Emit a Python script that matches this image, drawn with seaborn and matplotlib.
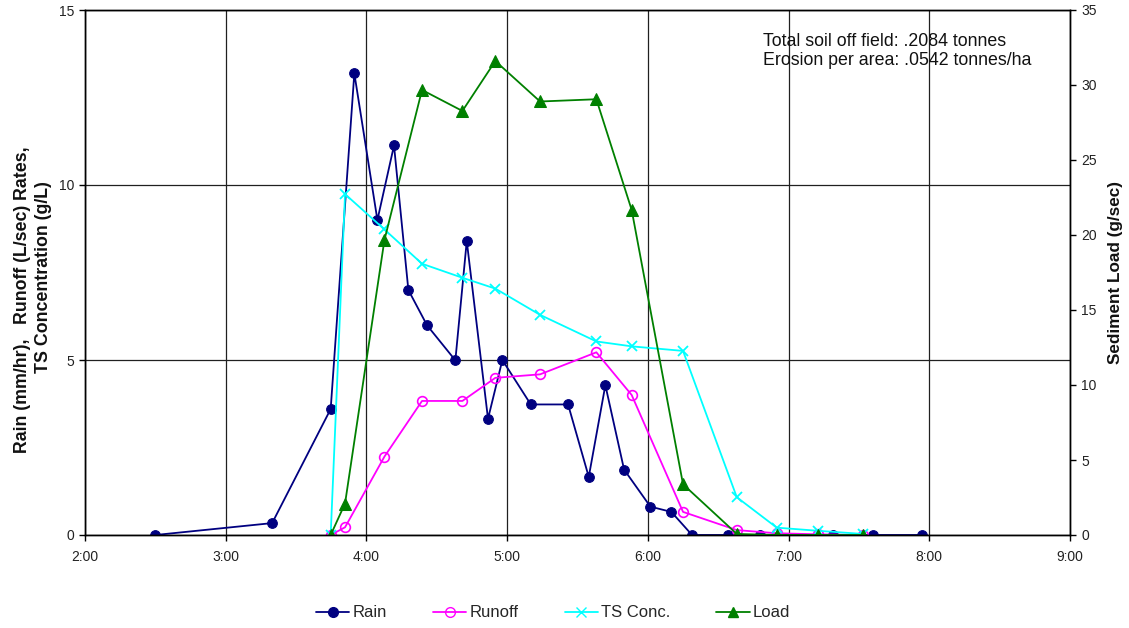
import matplotlib
matplotlib.use("Agg")
import matplotlib.pyplot as plt
import seaborn as sns
import numpy as np
from matplotlib.lines import Line2D

sns.set_theme(style="white")
plt.rcParams['font.family'] = ['Liberation Sans', 'DejaVu Sans']

# ---- data (time in decimal hours) ----
rain_time = [2.50, 3.33, 3.746, 3.914, 4.078, 4.196, 4.298, 4.431, 4.632, 4.713, 4.864, 4.966,
             5.168, 5.433, 5.58, 5.698, 5.831, 6.018, 6.167, 6.314, 6.57, 6.80, 7.316, 7.60, 7.95]
rain = [0, 0.34, 3.6, 13.19, 9.0, 11.13, 7.0, 5.99, 4.99, 8.4, 3.32, 5.0,
        3.73, 3.73, 1.66, 4.28, 1.87, 0.81, 0.66, 0, 0, 0, 0, 0, 0]

sample_time = [3.746, 3.848, 4.128, 4.395, 4.682, 4.916, 5.234, 5.634, 5.885, 6.25, 6.632, 6.916, 7.21, 7.53]
runoff = [0, 0.22, 2.24, 3.83, 3.83, 4.49, 4.59, 5.22, 4.0, 0.66, 0.14, 0.05, 0.02, 0.0]
ts_conc = [0, 9.74, 8.73, 7.75, 7.35, 7.04, 6.29, 5.53, 5.39, 5.26, 1.08, 0.21, 0.12, 0.03]
load = [0, 2.1, 19.67, 29.67, 28.27, 31.6, 28.9, 29.05, 21.67, 3.38, 0.07, 0, 0, 0]

hour_ticks = [2, 3, 4, 5, 6, 7, 8, 9]
hour_labels = ["2:00", "3:00", "4:00", "5:00", "6:00", "7:00", "8:00", "9:00"]
left_ticks = [0, 5, 10, 15]
right_ticks = [0, 5, 10, 15, 20, 25, 30, 35]

c_rain, c_run, c_ts, c_load = "#000080", "#FF00FF", "#00FFFF", "#008000"

W, H = 1129, 628
fig = plt.figure(figsize=(W/100, H/100), dpi=100)
ax = fig.add_axes([85/W, 1-535/H, 985/W, 525/H])
ax2 = ax.twinx()

lw = 1.3
sns.lineplot(x=rain_time, y=rain, ax=ax, color=c_rain, marker='o', markersize=7,
             markeredgecolor=c_rain, linewidth=lw, sort=False)
sns.lineplot(x=sample_time, y=runoff, ax=ax, color=c_run, marker='o', markersize=7,
             markerfacecolor='none', markeredgecolor=c_run, markeredgewidth=1.2, linewidth=lw, sort=False)
sns.lineplot(x=sample_time, y=ts_conc, ax=ax, color=c_ts, marker='x', markersize=7,
             markeredgecolor=c_ts, markeredgewidth=1.3, linewidth=lw, sort=False)
sns.lineplot(x=sample_time, y=load, ax=ax2, color=c_load, marker='^', markersize=8,
             markeredgecolor=c_load, linewidth=lw, sort=False)

ax.set_xlim(2, 9)
ax.set_ylim(0, 15)
ax2.set_ylim(0, 35)
ax.set_xticks(hour_ticks)
ax.set_xticklabels(hour_labels)
ax.set_yticks(left_ticks)
ax2.set_yticks(right_ticks)

ax.grid(True, color='#202020', linewidth=0.9)
ax2.grid(False)
for a in (ax, ax2):
    for s in a.spines.values():
        s.set_color('black')
        s.set_linewidth(1.0)
ax.tick_params(axis='both', which='major', labelsize=10, direction='out', length=4,
               width=1, color='black', bottom=True, left=True, pad=4, labelcolor='#222222')
ax2.tick_params(axis='y', labelsize=10, direction='out', length=4, width=1, color='black',
                right=True, pad=4, labelcolor='#222222')
ax.tick_params(axis='x', pad=7)

ax.set_xlabel("")
ax.set_ylabel("")
# left axis title, two lines (drawn as separate rotated texts, like the original)
fig.text(23/W, 1-300/H, "Rain (mm/hr),   Runoff (L/sec) Rates,", rotation=90,
         ha='center', va='center', fontsize=12.8, fontweight='bold', color='#111111')
fig.text(44/W, 1-277/H, "TS Concentration (g/L)", rotation=90,
         ha='center', va='center', fontsize=12.8, fontweight='bold', color='#111111')
ax2.set_ylabel("Sediment Load (g/sec)", fontsize=12.3, fontweight='bold', labelpad=8, color='#111111')

ax.text(0.688, 0.957, "Total soil off field: .2084 tonnes\nErosion per area: .0542 tonnes/ha",
        transform=ax.transAxes, ha='left', va='top', fontsize=12.8, linespacing=1.2, color='#111111')

handles = [
    Line2D([], [], color=c_rain, marker='o', markersize=7, linewidth=lw),
    Line2D([], [], color=c_run, marker='o', markersize=7, markerfacecolor='none', linewidth=lw),
    Line2D([], [], color=c_ts, marker='x', markersize=7, linewidth=lw),
    Line2D([], [], color=c_load, marker='^', markersize=7, linewidth=lw),
]
fig.legend(handles, ["Rain", "Runoff", "TS Conc.", "Load"], loc='center',
           bbox_to_anchor=(0.49, 0.024), ncol=4, frameon=False, fontsize=12,
           handlelength=2.0, handletextpad=0.2, columnspacing=2.75)

fig.savefig("out.png", dpi=100, facecolor='white')
